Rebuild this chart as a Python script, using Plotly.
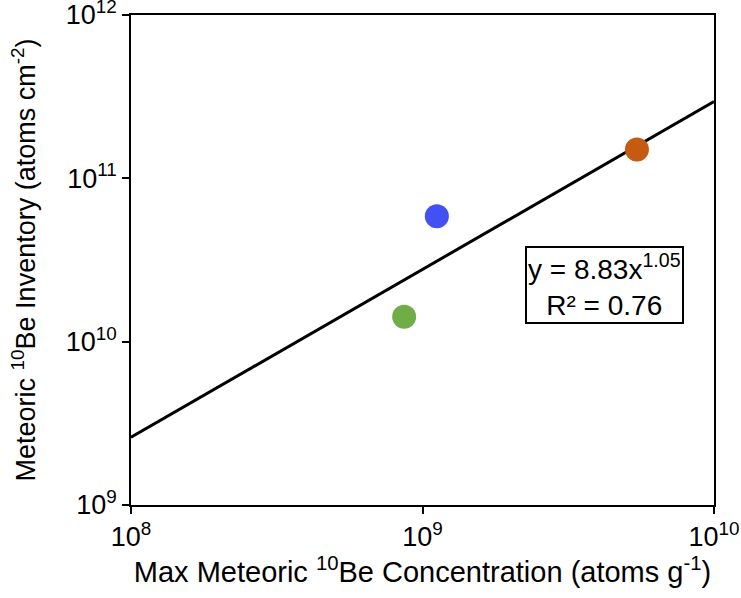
import plotly.graph_objects as go

# Data
site_x = [8.65e8, 1.12e9, 5.44e9]      # Max meteoric 10Be concentration (atoms/g)
site_y = [1.42e10, 5.86e10, 1.50e11]   # Meteoric 10Be inventory (atoms/cm2)
site_colors = ["#70AD47", "#4351F2", "#C55A11"]

fit_x = [1e8, 1e10]
fit_y = [2.6e9, 2.95e11]

x_tickvals = [1e8, 1e9, 1e10]
x_ticktext = ["10<sup>8</sup>", "10<sup>9</sup>", "10<sup>10</sup>"]
y_tickvals = [1e9, 1e10, 1e11, 1e12]
y_ticktext = ["10<sup>9</sup>", "10<sup>10</sup>", "10<sup>11</sup>", "10<sup>12</sup>"]

eq_text = "y = 8.83x<sup>1.05</sup><br>R² = 0.76"

font_family = "Liberation Sans, Arial, sans-serif"

fig = go.Figure()
fig.add_trace(go.Scatter(
    x=fit_x, y=fit_y, mode="lines",
    line=dict(color="black", width=3), showlegend=False, hoverinfo="skip"))
fig.add_trace(go.Scatter(
    x=site_x, y=site_y, mode="markers",
    marker=dict(color=site_colors, size=24, line=dict(width=0)),
    showlegend=False))

fig.add_annotation(
    xref="paper", yref="paper", x=0.813, y=0.45,
    xanchor="center", yanchor="middle",
    text=eq_text, showarrow=False, align="center",
    font=dict(size=28, color="black", family=font_family),
    bordercolor="black", borderwidth=2, borderpad=1, bgcolor="white")

axis_common = dict(
    type="log", showgrid=False, zeroline=False, automargin=False,
    showline=True, linecolor="black", linewidth=1.5, mirror=True,
    ticks="outside", ticklen=7, tickwidth=1.5, tickcolor="black",
    ticklabeloverflow="allow",
    tickfont=dict(size=27, color="black", family=font_family),
)

fig.update_xaxes(
    **axis_common, range=[8, 10],
    tickvals=x_tickvals, ticktext=x_ticktext,
    title=dict(text="Max Meteoric <sup>10</sup>Be Concentration (atoms g<sup>-1</sup>)",
               font=dict(size=29, color="black", family=font_family), standoff=10))
fig.update_yaxes(
    **axis_common, range=[9, 12],
    tickvals=y_tickvals, ticktext=y_ticktext,
    title=dict(text="Meteoric <sup>10</sup>Be Inventory (atoms cm<sup>-2</sup>)",
               font=dict(size=27, color="black", family=font_family), standoff=22))

fig.update_layout(
    width=741, height=598,
    margin=dict(l=131, r=27, t=15, b=93),
    paper_bgcolor="white", plot_bgcolor="white",
    font=dict(family=font_family, color="black"),
)

# remove the browser's default body margin so the figure sits at the page corner
fig.write_html("out.html", config={"displayModeBar": False},
               post_script="document.body.style.margin='0';")
